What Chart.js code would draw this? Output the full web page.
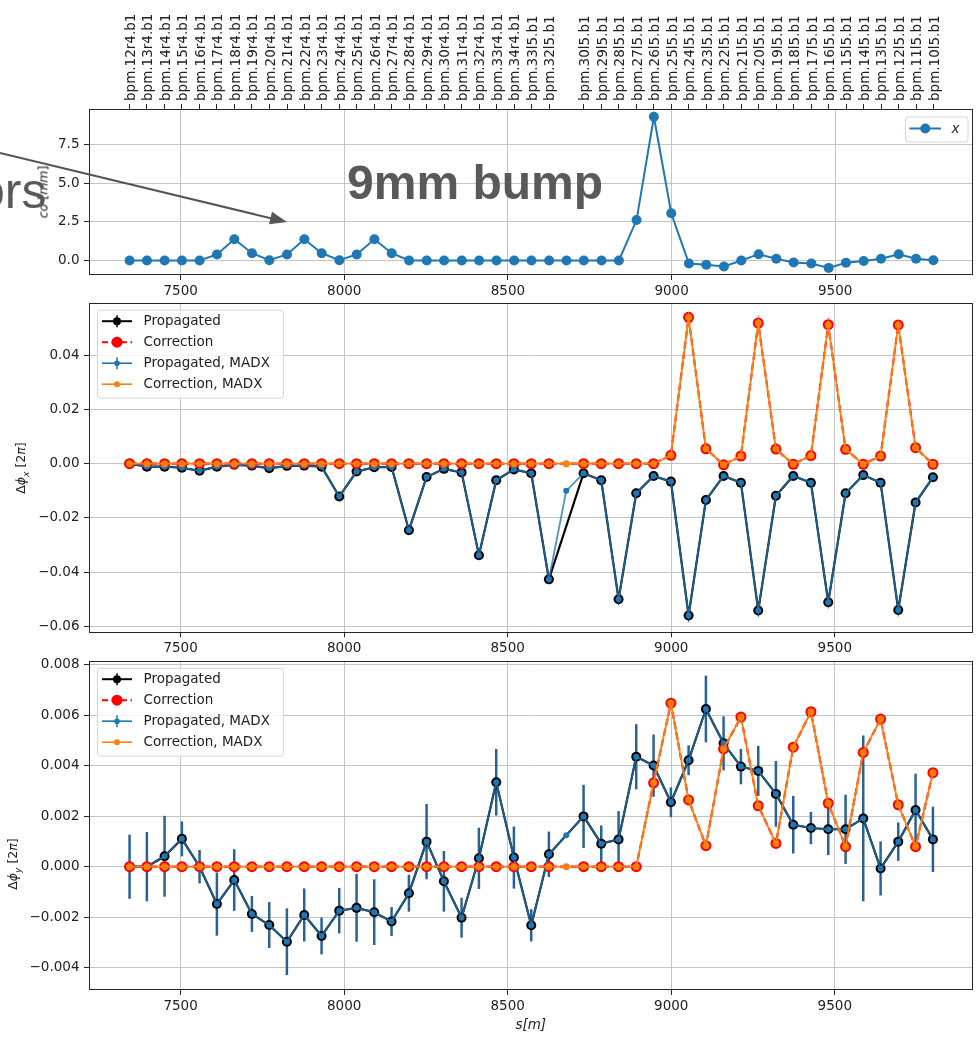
<!DOCTYPE html>
<html>
<head>
<meta charset="utf-8">
<title>Orbit bump and phase correction</title>
<script src="https://cdn.jsdelivr.net/npm/chart.js@4.4.1/dist/chart.umd.min.js"></script>
<style>
  html, body { margin: 0; padding: 0; background: #fff; }
  body { position: relative; width: 978px; height: 1038px; overflow: hidden; font-family: 'DejaVu Sans', sans-serif; }
  canvas { position: absolute; left: 0; }
  .ytitle { position: absolute; transform: translate(-50%, -50%) rotate(-90deg); white-space: nowrap; font-size: 12.5px; color: #222; }
  .ytitle sub { font-size: 9px; }
  .note { position: absolute; font-family: 'Liberation Sans', Arial, sans-serif; color: #595959; white-space: nowrap; line-height: 1; }
  svg { position: absolute; left: 0; top: 0; }
</style>
</head>
<body>
<canvas id="orbitChart" width="978" height="300" style="top:0"></canvas>
<canvas id="phaseXChart" width="978" height="370" style="top:290px"></canvas>
<canvas id="phaseYChart" width="978" height="393" style="top:645px"></canvas>

<div class="ytitle" style="left:43px; top:192px"><i>co</i> [<i>mm</i>]</div>
<div class="ytitle" style="left:22px; top:468px">Δ<i>ϕ</i><sub><i>x</i></sub> [2<i>π</i>]</div>
<div class="ytitle" style="left:14px; top:864px">Δ<i>ϕ</i><sub><i>y</i></sub> [2<i>π</i>]</div>

<svg width="978" height="1038">
  <line x1="0" y1="153" x2="272" y2="218.5" stroke="#555" stroke-width="2"/>
  <polygon points="287,222 269,224.3 272,211.7" fill="#555"/>
</svg>
<div class="note" style="left:-23px; top:166px; font-size:50px">ors</div>
<div class="note" style="left:347px; top:159px; font-size:48px; font-weight:bold">9mm bump</div>

<script>
// BPM positions along the ring [m] and their names
const sPos = [7344, 7397, 7451, 7504, 7558, 7611, 7664, 7718, 7771, 7825, 7878, 7931, 7985, 8038, 8092, 8145,
    8198, 8252, 8305, 8359, 8412, 8465, 8519, 8572, 8626, 8679, 8732, 8786, 8839, 8893, 8946, 8999,
    9053, 9106, 9160, 9213, 9266, 9320, 9373, 9427, 9480, 9533, 9587, 9640, 9694, 9747, 9800];
const bpmNames = ['bpm.12r4.b1', 'bpm.13r4.b1', 'bpm.14r4.b1', 'bpm.15r4.b1', 'bpm.16r4.b1', 'bpm.17r4.b1',
    'bpm.18r4.b1', 'bpm.19r4.b1', 'bpm.20r4.b1', 'bpm.21r4.b1', 'bpm.22r4.b1', 'bpm.23r4.b1', 'bpm.24r4.b1',
    'bpm.25r4.b1', 'bpm.26r4.b1', 'bpm.27r4.b1', 'bpm.28r4.b1', 'bpm.29r4.b1', 'bpm.30r4.b1', 'bpm.31r4.b1',
    'bpm.32r4.b1', 'bpm.33r4.b1', 'bpm.34r4.b1', 'bpm.33l5.b1', 'bpm.32l5.b1', 'bpm.31l5.b1', 'bpm.30l5.b1',
    'bpm.29l5.b1', 'bpm.28l5.b1', 'bpm.27l5.b1', 'bpm.26l5.b1', 'bpm.25l5.b1', 'bpm.24l5.b1', 'bpm.23l5.b1',
    'bpm.22l5.b1', 'bpm.21l5.b1', 'bpm.20l5.b1', 'bpm.19l5.b1', 'bpm.18l5.b1', 'bpm.17l5.b1', 'bpm.16l5.b1',
    'bpm.15l5.b1', 'bpm.14l5.b1', 'bpm.13l5.b1', 'bpm.12l5.b1', 'bpm.11l5.b1', 'bpm.10l5.b1'];

// closed orbit x [mm]
const orbitX = [0, 0, 0, 0, 0, 0.39, 1.38, 0.47, 0.02, 0.39, 1.38, 0.47, 0.02, 0.39, 1.38, 0.47,
    0, 0, 0, 0, 0, 0, 0, 0, 0, 0, 0, 0, 0, 2.62, 9.32, 3.06,
    -0.2, -0.28, -0.39, 0, 0.41, 0.11, -0.13, -0.2, -0.48, -0.15, -0.03, 0.11, 0.41, 0.11, 0.02];

// horizontal phase [2pi] (null = no measurement at that BPM)
const propX = [0, -0.0011, -0.0011, -0.0015, -0.0026, -0.0011, -0.0004, -0.0007, -0.0017, -0.0008, -0.0007, -0.0011,
    -0.0121, -0.0029, -0.0013, -0.0012, -0.0245, -0.0049, -0.0019, -0.0032, -0.0337, -0.0061, -0.0021, -0.0035,
    -0.0426, null, -0.0035, -0.0061, -0.0499, -0.0109, -0.0045, -0.0066, -0.0559, -0.0134, -0.0045, -0.0070,
    -0.0541, -0.0118, -0.0045, -0.0070, -0.0510, -0.0109, -0.0042, -0.0070, -0.0539, -0.0143, -0.0050];
const corrX = [0, 0, 0, 0, 0, 0, 0, 0, 0, 0, 0, 0, 0, 0, 0, 0, 0, 0, 0, 0, 0, 0, 0, 0,
    0, null, 0, 0, 0, 0, 0, 0.0031, 0.0539, 0.0055, -0.0004, 0.0028,
    0.0518, 0.0054, -0.0002, 0.0030, 0.0512, 0.0053, -0.0002, 0.0028, 0.0511, 0.0059, -0.0002];
const propXMadx = [0, -0.0011, -0.0011, -0.0015, -0.0026, -0.0011, -0.0004, -0.0007, -0.0017, -0.0008, -0.0007, -0.0011,
    -0.0121, -0.0029, -0.0013, -0.0012, -0.0245, -0.0049, -0.0019, -0.0032, -0.0337, -0.0061, -0.0021, -0.0035,
    -0.0426, -0.0100, -0.0035, -0.0061, -0.0499, -0.0109, -0.0045, -0.0066, -0.0559, -0.0134, -0.0045, -0.0070,
    -0.0541, -0.0118, -0.0045, -0.0070, -0.0510, -0.0109, -0.0042, -0.0070, -0.0539, -0.0143, -0.0050];
const corrXMadx = [0, 0, 0, 0, 0, 0, 0, 0, 0, 0, 0, 0, 0, 0, 0, 0, 0, 0, 0, 0, 0, 0, 0, 0,
    0, 0, 0, 0, 0, 0, 0, 0.0031, 0.0539, 0.0055, -0.0004, 0.0028,
    0.0518, 0.0054, -0.0002, 0.0030, 0.0512, 0.0053, -0.0002, 0.0028, 0.0511, 0.0059, -0.0002];

// vertical phase [2pi]
const propY = [0, 0, 0.00041, 0.00110, 0, -0.00148, -0.00053, -0.00187, -0.00231, -0.00297, -0.00191, -0.00274,
    -0.00174, -0.00163, -0.00180, -0.00217, -0.00105, 0.00099, -0.00058, -0.00202, 0.00033, 0.00334, 0.00036, -0.00232,
    0.00049, null, 0.00199, 0.00091, 0.00108, 0.00435, 0.00400, 0.00255, 0.00421, 0.00624, 0.00488, 0.00396,
    0.00379, 0.00288, 0.00166, 0.00153, 0.00148, 0.00148, 0.00191, -0.00007, 0.00099, 0.00224, 0.00108];
const errY = [0.00127, 0.00137, 0.0016, 0.00069, 0.00066, 0.00125, 0.00122, 0.00071, 0.00091, 0.00132, 0.00105, 0.00073,
    0.0009, 0.00134, 0.0013, 0.00057, 0.00073, 0.00149, 0.0012, 0.00079, 0.00121, 0.00132, 0.00123, 0.00064,
    0.0009, null, 0.00125, 0.00072, 0.00112, 0.00129, 0.00123, 0.00059, 0.00059, 0.00132, 0.00107, 0.0007,
    0.00099, 0.0013, 0.00114, 0.00064, 0.00102, 0.00137, 0.00328, 0.00107, 0.00076, 0.00144, 0.00129];
const corrY = [0, 0, 0, 0, 0, 0, 0, 0, 0, 0, 0, 0, 0, 0, 0, 0, 0, 0, 0, 0, 0, 0, 0, 0,
    0, null, 0, 0, 0, 0, 0.00332, 0.00647, 0.00264, 0.00083, 0.00466, 0.00592,
    0.00241, 0.00092, 0.00473, 0.00613, 0.00251, 0.00079, 0.00452, 0.00584, 0.00245, 0.00079, 0.00372];
const propYMadx = [0, 0, 0.00041, 0.00110, 0, -0.00148, -0.00053, -0.00187, -0.00231, -0.00297, -0.00191, -0.00274,
    -0.00174, -0.00163, -0.00180, -0.00217, -0.00105, 0.00099, -0.00058, -0.00202, 0.00033, 0.00334, 0.00036, -0.00232,
    0.00049, 0.00124, 0.00199, 0.00091, 0.00108, 0.00435, 0.00400, 0.00255, 0.00421, 0.00624, 0.00488, 0.00396,
    0.00379, 0.00288, 0.00166, 0.00153, 0.00148, 0.00148, 0.00191, -0.00007, 0.00099, 0.00224, 0.00108];
const corrYMadx = [0, 0, 0, 0, 0, 0, 0, 0, 0, 0, 0, 0, 0, 0, 0, 0, 0, 0, 0, 0, 0, 0, 0, 0,
    0, 0, 0, 0, 0, 0, 0.00332, 0.00647, 0.00264, 0.00083, 0.00466, 0.00592,
    0.00241, 0.00092, 0.00473, 0.00613, 0.00251, 0.00079, 0.00452, 0.00584, 0.00245, 0.00079, 0.00372];

// axes
const xMin = 7220, xMax = 9921;
const sTicks = [7500, 8000, 8500, 9000, 9500];
const orbitTicks = [0, 2.5, 5, 7.5];
const phaseXTicks = [-0.06, -0.04, -0.02, 0, 0.02, 0.04];
const phaseYTicks = [-0.004, -0.002, 0, 0.002, 0.004, 0.006, 0.008];
const phaseLegend = ['Propagated', 'Correction', 'Propagated, MADX', 'Correction, MADX'];

const textColor = '#222';
const axisColor = '#262626';
const gridColor = '#c4c4c4';
const tickFont = { family: "'DejaVu Sans'", size: 13.5 };
const blue = '#1f77b4', orange = '#ff7f0e';

Chart.defaults.font.family = "'DejaVu Sans', sans-serif";

const pts = vals => sPos.map((s, i) => ({ x: s, y: vals[i] }));
const fmt = (v, d) => v.toFixed(d).replace('-', '\u2212');

// BPM ticks on the top axis: only where there is a measurement
const topTickS = sPos.filter((s, i) => propX[i] !== null);
const topTickNames = bpmNames.filter((n, i) => propX[i] !== null);

function xScale(bottomHeight, title) {
    return {
        type: 'linear', position: 'bottom', min: xMin, max: xMax, bounds: 'data',
        afterBuildTicks: s => { s.ticks = sTicks.map(v => ({ value: v })); },
        afterFit: s => { s.height = bottomHeight; },
        ticks: { callback: v => String(v), font: tickFont, color: textColor, padding: 3.5, maxRotation: 0, autoSkip: false },
        grid: { color: gridColor, lineWidth: 1, tickColor: axisColor, tickLength: 5 },
        border: { display: false },
        title: title || { display: false }
    };
}

function yScale(min, max, ticks, digits) {
    return {
        type: 'linear', min: min, max: max, bounds: 'data',
        afterBuildTicks: s => { s.ticks = ticks.map(v => ({ value: v })); },
        afterFit: s => { s.width = 89; },
        ticks: { callback: v => fmt(v, digits), font: tickFont, color: textColor, padding: 4.5 },
        grid: { color: gridColor, lineWidth: 1, tickColor: axisColor, tickLength: 5 },
        border: { display: false }
    };
}

const framePlugin = {
    id: 'frame',
    afterDatasetsDraw(chart) {
        const { ctx, chartArea: a } = chart;
        ctx.save();
        ctx.strokeStyle = axisColor;
        ctx.lineWidth = 1;
        ctx.strokeRect(Math.round(a.left) + 0.5, Math.round(a.top) + 0.5,
            Math.round(a.right - a.left) - 1, Math.round(a.bottom - a.top) - 1);
        ctx.restore();
    }
};

function legendBox(ctx, x, y, w, h) {
    ctx.beginPath();
    ctx.roundRect(x + 0.5, y + 0.5, w, h, 3);
    ctx.fillStyle = 'rgba(255,255,255,0.85)';
    ctx.fill();
    ctx.strokeStyle = '#d6d6d6';
    ctx.lineWidth = 1;
    ctx.stroke();
}

function dot(ctx, x, y, r, color) {
    ctx.beginPath();
    ctx.arc(x, y, r, 0, Math.PI * 2);
    ctx.fillStyle = color;
    ctx.fill();
}

function seg(ctx, x0, y0, x1, y1, color, width, dash) {
    ctx.beginPath();
    ctx.setLineDash(dash || []);
    ctx.moveTo(x0, y0);
    ctx.lineTo(x1, y1);
    ctx.strokeStyle = color;
    ctx.lineWidth = width;
    ctx.stroke();
    ctx.setLineDash([]);
}

const phaseLegendPlugin = {
    id: 'phaseLegend',
    afterDraw(chart) {
        const { ctx, chartArea: a } = chart;
        const bx = a.left + 8, by = a.top + 7;
        ctx.save();
        legendBox(ctx, bx, by, 186, 88);
        const h0 = bx + 5, h1 = bx + 35, hc = bx + 20;
        phaseLegend.forEach((label, i) => {
            const yy = by + 11.5 + i * 21;
            if (i === 0) {
                seg(ctx, h0, yy, h1, yy, '#000', 2);
                seg(ctx, hc, yy - 6, hc, yy + 6, '#000', 1.5);
                dot(ctx, hc, yy, 4, '#000');
            } else if (i === 1) {
                seg(ctx, h0, yy, h1, yy, '#ff0000', 2, [6, 3.5]);
                dot(ctx, hc, yy, 5.5, '#ff0000');
            } else if (i === 2) {
                seg(ctx, h0, yy, h1, yy, blue, 1.6);
                seg(ctx, hc, yy - 6, hc, yy + 6, blue, 1.5);
                dot(ctx, hc, yy, 2.8, blue);
            } else {
                seg(ctx, h0, yy, h1, yy, orange, 1.6);
                dot(ctx, hc, yy, 3, orange);
            }
            ctx.fillStyle = textColor;
            ctx.font = "13.5px 'DejaVu Sans'";
            ctx.textBaseline = 'middle';
            ctx.fillText(label, bx + 46.5, yy + 0.5);
        });
        ctx.restore();
    }
};

const orbitLegendPlugin = {
    id: 'orbitLegend',
    afterDraw(chart) {
        const { ctx, chartArea: a } = chart;
        const bx = a.right - 68, by = a.top + 7.5;
        ctx.save();
        legendBox(ctx, bx, by, 62.5, 25);
        seg(ctx, bx + 4.5, by + 12, bx + 36, by + 12, blue, 2);
        dot(ctx, bx + 20.3, by + 12, 5, blue);
        ctx.fillStyle = textColor;
        ctx.font = "italic 13.5px 'DejaVu Sans'";
        ctx.textBaseline = 'middle';
        ctx.fillText('x', bx + 46.5, by + 12.5);
        ctx.restore();
    }
};

function errorBars(values, errors) {
    return {
        id: 'errorBars',
        beforeDatasetsDraw(chart) {
            const { ctx, scales: { x, y } } = chart;
            ctx.save();
            ctx.strokeStyle = '#2a6293';
            ctx.lineWidth = 2.5;
            errors.forEach((e, i) => {
                if (e === null || values[i] === null) return;
                const px = x.getPixelForValue(sPos[i]);
                ctx.beginPath();
                ctx.moveTo(px, y.getPixelForValue(values[i] - e));
                ctx.lineTo(px, y.getPixelForValue(values[i] + e));
                ctx.stroke();
            });
            ctx.restore();
        }
    };
}

const baseOptions = {
    responsive: false,
    animation: false,
    events: [],
    plugins: { legend: { display: false }, tooltip: { enabled: false } }
};

function phaseDatasets(prop, corr, propMadx, corrMadx) {
    return [
        {
            label: 'Propagated', data: pts(prop), order: 4, spanGaps: true,
            borderColor: '#000', borderWidth: 2.2,
            pointRadius: 5, pointBackgroundColor: '#000', pointBorderWidth: 0
        },
        {
            label: 'Correction', data: pts(corr), order: 3, spanGaps: true,
            borderColor: '#ff0000', borderWidth: 2.2, borderDash: [7, 3.5],
            pointRadius: 5.5, pointBackgroundColor: '#ff0000', pointBorderWidth: 0
        },
        {
            label: 'Propagated, MADX', data: pts(propMadx), order: 2,
            borderColor: 'rgba(31,119,180,0.8)', borderWidth: 1.8,
            pointRadius: 3, pointBackgroundColor: blue, pointBorderWidth: 0
        },
        {
            label: 'Correction, MADX', data: pts(corrMadx), order: 1,
            borderColor: orange, borderWidth: 1.8,
            pointRadius: 3.5, pointBackgroundColor: orange, pointBorderWidth: 0
        }
    ];
}

// top panel: orbit bump
new Chart(document.getElementById('orbitChart'), {
    type: 'line',
    data: {
        datasets: [{
            label: 'x', data: pts(orbitX),
            borderColor: blue, borderWidth: 2,
            pointRadius: 5, pointBackgroundColor: blue, pointBorderWidth: 0
        }]
    },
    options: Object.assign({}, baseOptions, {
        layout: { padding: { left: 0, right: 3, top: 0, bottom: 0 } },
        scales: {
            x: xScale(25),
            x2: {
                type: 'linear', position: 'top', min: xMin, max: xMax, bounds: 'data',
                afterBuildTicks: s => { s.ticks = topTickS.map(v => ({ value: v })); },
                afterFit: s => { s.height = 109; },
                ticks: {
                    callback: (v, i) => topTickNames[i], font: tickFont, color: textColor,
                    padding: 3, autoSkip: false, minRotation: 90, maxRotation: 90, labelOffset: 18
                },
                grid: { drawOnChartArea: false, tickColor: axisColor, tickLength: 5 },
                border: { display: false }
            },
            y: yScale(-0.94, 9.82, orbitTicks, 1)
        }
    }),
    plugins: [framePlugin, orbitLegendPlugin]
});

// middle panel: horizontal phase
new Chart(document.getElementById('phaseXChart'), {
    type: 'line',
    data: { datasets: phaseDatasets(propX, corrX, propXMadx, corrXMadx) },
    options: Object.assign({}, baseOptions, {
        layout: { padding: { left: 0, right: 3, top: 12.7, bottom: 0 } },
        scales: {
            x: xScale(27.7),
            y: yScale(-0.0621, 0.0593, phaseXTicks, 2)
        }
    }),
    plugins: [framePlugin, phaseLegendPlugin]
});

// bottom panel: vertical phase
new Chart(document.getElementById('phaseYChart'), {
    type: 'line',
    data: { datasets: phaseDatasets(propY, corrY, propYMadx, corrYMadx) },
    options: Object.assign({}, baseOptions, {
        layout: { padding: { left: 0, right: 3, top: 15.7, bottom: 0 } },
        scales: {
            x: xScale(48, {
                display: true, text: 's[m]', color: textColor,
                font: { family: "'DejaVu Sans'", size: 13.5, style: 'italic' },
                padding: { top: 0, bottom: 4 }
            }),
            y: yScale(-0.00488, 0.00815, phaseYTicks, 3)
        }
    }),
    plugins: [errorBars(propY, errY), framePlugin, phaseLegendPlugin]
});
</script>
</body>
</html>
